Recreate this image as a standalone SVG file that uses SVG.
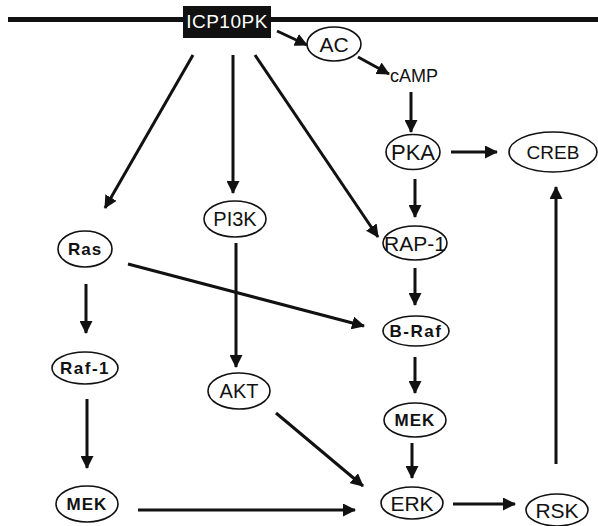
<svg xmlns="http://www.w3.org/2000/svg" width="598" height="526" viewBox="0 0 598 526">
<style>
.n ellipse{fill:#fff;stroke:#111;stroke-width:1.6}
.t{font-family:"Liberation Sans",Arial,sans-serif;fill:#111;text-anchor:middle;dominant-baseline:central}
.b{font-weight:bold;letter-spacing:1px}
.c line{stroke:#111;stroke-width:3;marker-end:url(#ah)}
</style>
<defs>
<marker id="ah" markerUnits="userSpaceOnUse" markerWidth="13" markerHeight="13" refX="12" refY="6.5" orient="auto">
<path d="M0,0 L13,6.5 L0,13 z" fill="#111"/>
</marker>
</defs>
<rect x="0" y="0" width="598" height="526" fill="#fff"/>
<line x1="8" y1="19.5" x2="598" y2="19.5" stroke="#111" stroke-width="5"/>
<g id="ICP10PK">
<rect x="183" y="6" width="88" height="32" fill="#111"/>
<text class="t" x="227" y="21" font-size="19" style="fill:#fff;letter-spacing:0.5px">ICP10PK</text>
</g>
<g class="c" id="connectors">
<line x1="277" y1="31" x2="307" y2="45"/>
<line x1="358" y1="57" x2="389" y2="74"/>
<line x1="411" y1="92" x2="411" y2="132"/>
<line x1="193" y1="55" x2="105" y2="208"/>
<line x1="233" y1="55" x2="233" y2="193"/>
<line x1="255" y1="55" x2="378" y2="237"/>
<line x1="451" y1="152" x2="497" y2="152"/>
<line x1="415" y1="179" x2="415" y2="217"/>
<line x1="86" y1="284" x2="86" y2="333"/>
<line x1="128" y1="264" x2="364" y2="326"/>
<line x1="236" y1="243" x2="236" y2="367"/>
<line x1="415" y1="268" x2="415" y2="305"/>
<line x1="87" y1="399" x2="87" y2="468"/>
<line x1="415" y1="357" x2="415" y2="393"/>
<line x1="276" y1="413" x2="363" y2="486"/>
<line x1="412" y1="443" x2="412" y2="478"/>
<line x1="138" y1="510" x2="355" y2="510"/>
<line x1="453" y1="504" x2="515" y2="504"/>
<line x1="556" y1="464" x2="556" y2="187"/>
</g>
<g id="AC" class="n"><ellipse cx="334" cy="44" rx="27" ry="17"/><text class="t" x="334" y="44" font-size="21">AC</text></g>
<g id="cAMP"><text class="t" x="414" y="76" font-size="18">cAMP</text></g>
<g id="PKA" class="n"><ellipse cx="413" cy="152" rx="27" ry="17.5"/><text class="t" x="413" y="152" font-size="22">PKA</text></g>
<g id="CREB" class="n"><ellipse cx="553" cy="152" rx="44" ry="20"/><text class="t" x="553" y="152" font-size="19">CREB</text></g>
<g id="PI3K" class="n"><ellipse cx="235" cy="219" rx="31" ry="18"/><text class="t" x="235" y="219" font-size="20">PI3K</text></g>
<g id="RAP-1" class="n"><ellipse cx="415" cy="243" rx="32" ry="17"/><text class="t" x="415" y="243" font-size="21">RAP-1</text></g>
<g id="Ras" class="n"><ellipse cx="85" cy="249" rx="27" ry="18"/><text class="t b" x="85" y="249" font-size="17">Ras</text></g>
<g id="B-Raf" class="n"><ellipse cx="416" cy="331" rx="33" ry="15"/><text class="t b" x="416" y="331" font-size="17" style="letter-spacing:1.5px">B-Raf</text></g>
<g id="Raf-1" class="n"><ellipse cx="85" cy="368" rx="33" ry="16"/><text class="t b" x="85" y="368" font-size="17" style="letter-spacing:1.5px">Raf-1</text></g>
<g id="AKT" class="n"><ellipse cx="239" cy="391" rx="31" ry="18"/><text class="t" x="239" y="391" font-size="20">AKT</text></g>
<g id="MEK2" class="n"><ellipse cx="415" cy="420" rx="31" ry="17"/><text class="t b" x="415" y="420" font-size="17">MEK</text></g>
<g id="MEK1" class="n"><ellipse cx="87" cy="504" rx="31" ry="18"/><text class="t b" x="87" y="504" font-size="17">MEK</text></g>
<g id="ERK" class="n"><ellipse cx="412" cy="503" rx="31" ry="16"/><text class="t" x="412" y="503" font-size="21">ERK</text></g>
<g id="RSK" class="n"><ellipse cx="557" cy="510" rx="31" ry="16"/><text class="t" x="557" y="510" font-size="21">RSK</text></g>
</svg>
